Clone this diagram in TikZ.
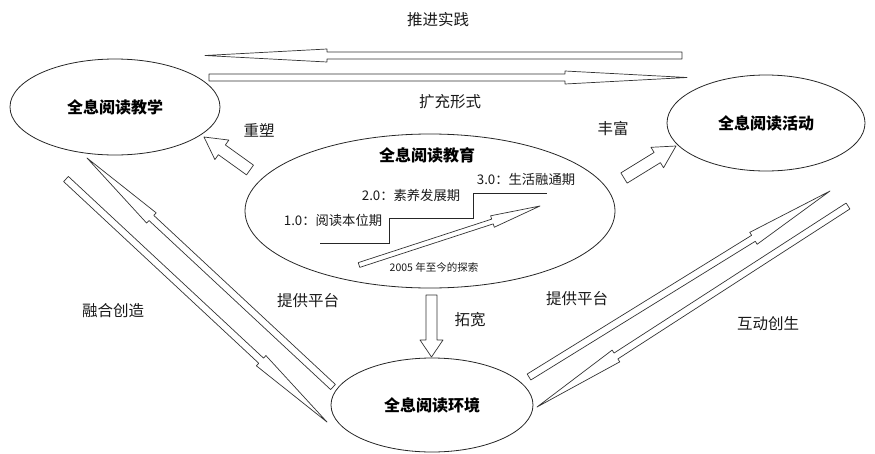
\documentclass[tikz,border=0pt]{standalone}
\usepackage{fontspec}
\newfontfamily\cjk{Noto Sans CJK SC}
\usetikzlibrary{shapes.geometric,calc}
\tikzset{
  ell/.style={ellipse, draw=black!85, line width=0.8pt, inner sep=0pt},
  title/.style={font=\cjk\bfseries\fontsize{16}{18}\selectfont, text=black},
  lbl/.style={font=\cjk\fontsize{15.5}{17}\selectfont, text=black!90},
  inlbl/.style={font=\cjk\fontsize{13.3}{15}\selectfont, text=black!90},
  small/.style={font=\cjk\fontsize{10.5}{12}\selectfont, text=black!90},
  blk/.style={draw=black!80, line width=0.7pt, fill=white, line join=round},
  stepline/.style={draw=black!85, line width=0.8pt}
}
\newcommand{\blockarr}[5]{%
  \draw[blk] ($(#1)!#3!90:(#2)$) -- ($(#2)!#5!(#1)!#3!90:(#2)$)
    -- ($(#2)!#5!(#1)!#4!90:(#2)$) -- (#2)
    -- ($(#2)!#5!(#1)!#4!-90:(#2)$) -- ($(#2)!#5!(#1)!#3!-90:(#2)$)
    -- ($(#1)!#3!-90:(#2)$) -- cycle;}
\begin{document}
\begin{tikzpicture}[x=1pt,y=-1pt]
\useasboundingbox (0,0) rectangle (875,453);
% ellipses
\node[ell, minimum width=210, minimum height=96] (jx) at (115,107) {};
\node[title] at (jx.center) {全息阅读教学};
\node[ell, minimum width=198, minimum height=96] (hd) at (766,123) {};
\node[title] at (hd.center) {全息阅读活动};
\node[ell, minimum width=370, minimum height=154] (jy) at (430,211) {};
\node[ell, minimum width=202, minimum height=94] (hj) at (432,405) {};
\node[title] at (hj.center) {全息阅读环境};
% centre contents
\node[title] (jyt) at (427,155) {全息阅读教育};
\node[inlbl] (p3) at (526,179) {3.0：生活融通期};
\node[inlbl] (p2) at (411,195) {2.0：素养发展期};
\node[inlbl] (p1) at (333,220) {1.0：阅读本位期};
\node[small] (p0) at (434,267) {2005 年至今的探索};
\coordinate (s0) at (320,243);
\coordinate (s1) at (389,243);
\coordinate (s2) at (389,218);
\coordinate (s3) at (473,218);
\coordinate (s4) at (473,193);
\coordinate (s5) at (547,193);
\draw[stepline] (s0) -- (s1) -- (s2) -- (s3) -- (s4) -- (s5);
\coordinate (ca) at (359,265);
\coordinate (cb) at (540,206);
\blockarr{ca}{cb}{2.5pt}{6pt}{50pt}
% top arrows
\coordinate (t1a) at (682,55.5);
\coordinate (t1b) at (205,55.5);
\blockarr{t1a}{t1b}{3.5pt}{6.5pt}{122pt}
\coordinate (t2a) at (209,77.5);
\coordinate (t2b) at (687,77.5);
\blockarr{t2a}{t2b}{3.5pt}{6.5pt}{122pt}
\node[lbl] (l1) at (438,20) {推进实践};
\node[lbl] (l2) at (450,102) {扩充形式};
% short block arrows
\coordinate (rsa) at (250,170);
\coordinate (rsb) at (204,137);
\blockarr{rsa}{rsb}{6pt}{12pt}{22pt}
\node[lbl] (l3) at (259,130) {重塑};
\coordinate (ffa) at (624,178);
\coordinate (ffb) at (676,146);
\blockarr{ffa}{ffb}{6pt}{12pt}{22pt}
\node[lbl] (l4) at (613,129) {丰富};
\coordinate (twa) at (431.5,295);
\coordinate (twb) at (431.5,357);
\blockarr{twa}{twb}{5.5pt}{11.5pt}{17pt}
\node[lbl] (l5) at (470,320) {拓宽};
% left diagonal arrows
\coordinate (L1a) at (66,179);
\coordinate (L1b) at (327,422);
\blockarr{L1a}{L1b}{3.5pt}{7pt}{90pt}
\coordinate (L2a) at (333,387);
\coordinate (L2b) at (87,158);
\blockarr{L2a}{L2b}{3.5pt}{7pt}{88pt}
\node[lbl] (l6) at (113,311) {融合创造};
\node[lbl] (l7) at (308,301) {提供平台};
% right diagonal arrows
\coordinate (R1a) at (529,377);
\coordinate (R1b) at (830,191);
\blockarr{R1a}{R1b}{3.5pt}{7pt}{90pt}
\coordinate (R2a) at (848,206);
\coordinate (R2b) at (537,407);
\blockarr{R2a}{R2b}{3.5pt}{7pt}{94pt}
\node[lbl] (l8) at (577,299) {提供平台};
\node[lbl] (l9) at (768,324) {互动创生};
\end{tikzpicture}
\end{document}
